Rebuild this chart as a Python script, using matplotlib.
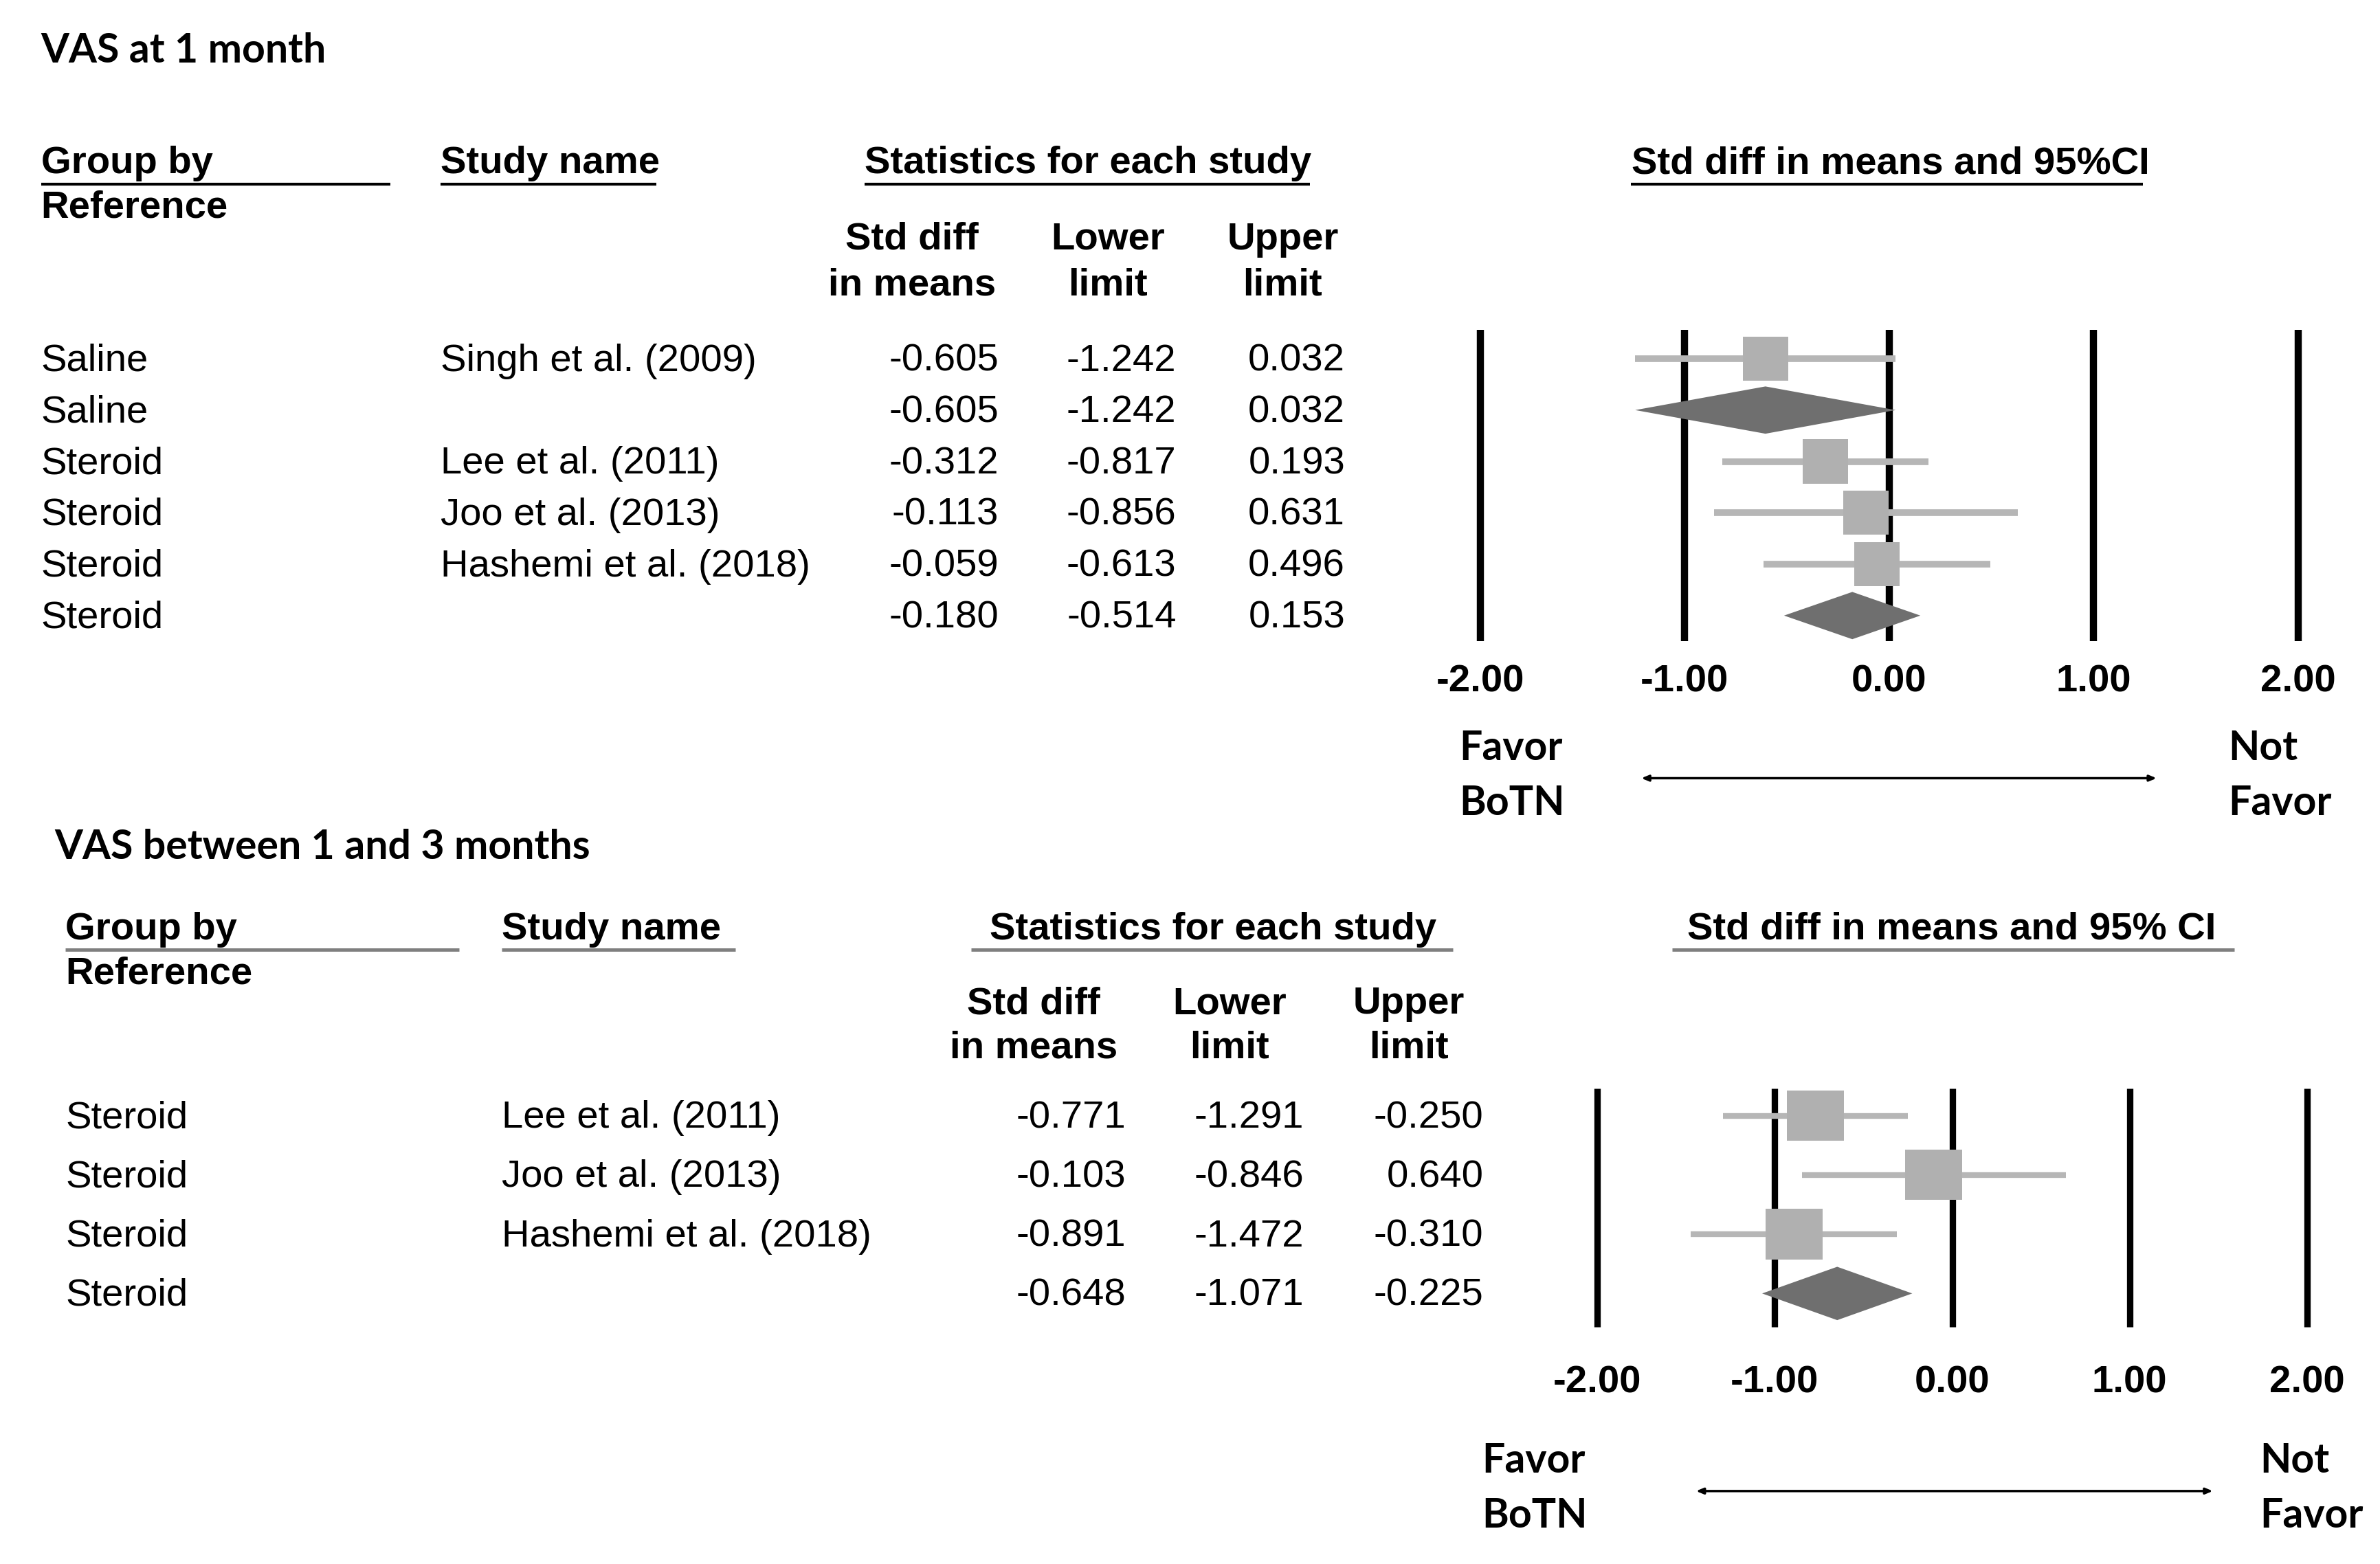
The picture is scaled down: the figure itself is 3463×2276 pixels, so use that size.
import matplotlib.pyplot as plt
from matplotlib.patches import Rectangle, Polygon

# ---------------- data ----------------
top_groups = ["Saline", "Saline", "Steroid", "Steroid", "Steroid", "Steroid"]
top_studies = ["Singh et al. (2009)", "", "Lee et al. (2011)", "Joo et al. (2013)",
               "Hashemi et al. (2018)", ""]
top_est = [-0.605, -0.605, -0.312, -0.113, -0.059, -0.180]
top_lo = [-1.242, -1.242, -0.817, -0.856, -0.613, -0.514]
top_hi = [0.032, 0.032, 0.193, 0.631, 0.496, 0.153]
top_summary = [False, True, False, False, False, True]

bot_groups = ["Steroid", "Steroid", "Steroid", "Steroid"]
bot_studies = ["Lee et al. (2011)", "Joo et al. (2013)", "Hashemi et al. (2018)", ""]
bot_est = [-0.771, -0.103, -0.891, -0.648]
bot_lo = [-1.291, -0.846, -1.472, -1.071]
bot_hi = [-0.250, 0.640, -0.310, -0.225]
bot_summary = [False, False, False, True]

ticks = [-2.0, -1.0, 0.0, 1.0, 2.0]

# ---------------- style ----------------
W, H = 1566, 1029          # layout units (whole figure)
ARIAL = "Liberation Sans"
CAL = "Lato"
FS = 40.5
FS_CAL = 42.5
SQ_COL = "#b0b0b0"
CI_COL = "#b6b6b6"
DIA_COL = "#6f6f6f"

fig = plt.figure(figsize=(34.63, 22.76), dpi=100)
bg = fig.add_axes([0, 0, 1, 1])
bg.set_xlim(0, W)
bg.set_ylim(H, 0)
bg.axis("off")


def txt(x, y, s, ha="left", bold=False, family=ARIAL, size=None, color="black"):
    # y is the visual centre of the capitals
    if size is None:
        size = FS_CAL if family == CAL else FS
    bg.text(x, y + 8, s, ha=ha, va="baseline", fontsize=size, family=family,
            fontweight="bold" if bold else "normal", color=color)


def uline(x0, x1, y, color="black", lw=3):
    bg.plot([x0, x1], [y, y], color=color, lw=lw, solid_capstyle="butt")


def panel(L):
    # titles and headers
    txt(L["title_x"], L["title_y"], L["title"], bold=True, family=CAL)
    txt(L["c1"], L["h1"], "Group by", bold=True)
    txt(L["c1"], L["h2"], "Reference", bold=True)
    uline(L["c1"], L["g_end"], L["ul"], L["ul_col"], L["ul_lw"])
    txt(L["c2"], L["h1"], "Study name", bold=True)
    uline(L["c2"], L["s_end"], L["ul"], L["ul_col"], L["ul_lw"])
    txt(L["stat_c"], L["h1"], "Statistics for each study", ha="center", bold=True)
    uline(L["stat_ul"][0], L["stat_ul"][1], L["ul"], L["ul_col"], L["ul_lw"])
    txt(L["ci_c"], L["h1"], L["ci_title"], ha="center", bold=True)
    uline(L["ci_ul"][0], L["ci_ul"][1], L["ul"], L["ul_col"], L["ul_lw"])

    for cx, (a, b) in zip(L["col_c"], [("Std diff", "in means"), ("Lower", "limit"),
                                      ("Upper", "limit")]):
        txt(cx, L["sh1"], a, ha="center", bold=True)
        txt(cx, L["sh2"], b, ha="center", bold=True)

    # table rows
    n = len(L["groups"])
    for i in range(n):
        y = L["r0"] + L["dr"] * i
        txt(L["c1"], y, L["groups"][i])
        txt(L["c2"], y, L["studies"][i])
        for xr, v in zip(L["num_r"], (L["est"][i], L["lo"][i], L["hi"][i])):
            txt(xr, y, f"{v:.3f}", ha="right")

    # forest plot axes
    x0, x1 = L["fx"]
    yt, yb = L["fy"]
    fax = fig.add_axes([x0 / W, 1 - yb / H, (x1 - x0) / W, (yb - yt) / H])
    fax.set_xlim(ticks[0], ticks[-1])
    fax.set_ylim((yb - L["r0"]) / L["dr"], (yt - L["r0"]) / L["dr"])
    fax.axis("off")
    for t in ticks:
        fax.axvline(t, color="black", lw=L["vlw"], clip_on=False, zorder=1,
                    solid_capstyle="butt")
    for i in range(n):
        if L["summary"][i]:
            h = L["dia_h"]
            fax.add_patch(Polygon([(L["lo"][i], i), (L["est"][i], i - h),
                                   (L["hi"][i], i), (L["est"][i], i + h)],
                                  closed=True, facecolor=DIA_COL, edgecolor="none",
                                  zorder=3, clip_on=False))
        else:
            fax.plot([L["lo"][i], L["hi"][i]], [i, i], color=CI_COL, lw=L["cilw"],
                     zorder=2, clip_on=False, solid_capstyle="butt")
            w, hh = L["sq"]
            fax.add_patch(Rectangle((L["est"][i] - w / 2, i - hh / 2), w, hh,
                                    facecolor=SQ_COL, edgecolor="none", zorder=3,
                                    clip_on=False))
    ty = (L["tick_y"] + 8 - L["r0"]) / L["dr"]
    for t in ticks:
        fax.text(t, ty, f"{t:.2f}", ha="center", va="baseline", fontsize=FS,
                 family=ARIAL, fontweight="bold", clip_on=False)

    # favour labels and arrow
    txt(L["fav_l"], L["fav_y"][0], "Favor", bold=True, family=CAL)
    txt(L["fav_l"], L["fav_y"][1], "BoTN", bold=True, family=CAL)
    txt(L["fav_r"], L["fav_y"][0], "Not", bold=True, family=CAL)
    txt(L["fav_r"], L["fav_y"][1], "Favor", bold=True, family=CAL)
    a0, a1, ay = L["arrow"]
    bg.annotate("", xy=(a1, ay), xytext=(a0, ay),
                arrowprops=dict(arrowstyle="<|-|>,head_length=0.6,head_width=0.25",
                                color="black", lw=2.5, shrinkA=0, shrinkB=0))


top = dict(
    title="VAS at 1 month", title_x=27, title_y=33,
    groups=top_groups, studies=top_studies, est=top_est, lo=top_lo, hi=top_hi,
    summary=top_summary,
    c1=27, c2=290, h1=106, h2=135, ul=121, ul_col="black", ul_lw=3,
    g_end=257, s_end=432, stat_c=716, stat_ul=(569, 862),
    ci_c=1244, ci_title="Std diff in means and 95%CI", ci_ul=(1073, 1410),
    col_c=(600, 729, 844), sh1=156, sh2=186,
    r0=236, dr=33.8, num_r=(657, 774, 885),
    fx=(974, 1512), fy=(217, 422), vlw=7.5, cilw=7.0, sq=(0.221, 0.86), dia_h=0.46,
    tick_y=447, fav_l=960, fav_r=1466, fav_y=(492, 528), arrow=(1080, 1419, 512),
)

bot = dict(
    title="VAS between 1 and 3 months", title_x=36, title_y=557,
    groups=bot_groups, studies=bot_studies, est=bot_est, lo=bot_lo, hi=bot_hi,
    summary=bot_summary,
    c1=43, c2=330, h1=610, h2=639, ul=625, ul_col="#7f7f7f", ul_lw=3.5,
    g_end=302, s_end=484, stat_c=798, stat_ul=(639, 956),
    ci_c=1284, ci_title="Std diff in means and 95% CI", ci_ul=(1100, 1470),
    col_c=(680, 809, 927), sh1=659, sh2=688,
    r0=734, dr=39.0, num_r=(741, 858, 976),
    fx=(1051, 1518), fy=(716, 873), vlw=6.7, cilw=6.0, sq=(0.321, 0.85), dia_h=0.45,
    tick_y=908, fav_l=975, fav_r=1487, fav_y=(961, 997), arrow=(1116, 1456, 981),
)

panel(top)
panel(bot)

fig.savefig("out.png", dpi=100, facecolor="white")
